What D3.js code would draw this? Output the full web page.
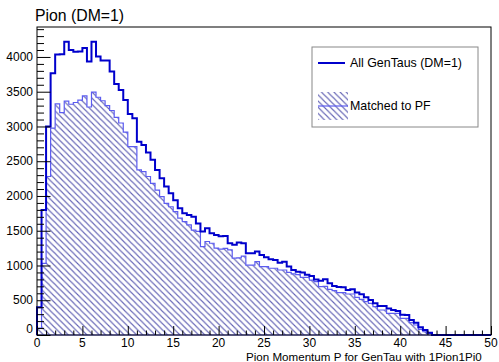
<!DOCTYPE html>
<html>
<head>
<meta charset="utf-8">
<script src="https://cdn.jsdelivr.net/npm/d3@7"></script>
<style>
  html, body { margin: 0; padding: 0; background: #fff; }
  svg { display: block; font-family: "Liberation Sans", Arial, Helvetica, sans-serif; }
</style>
</head>
<body>
<svg id="chart" width="499" height="362"></svg>
<script>
// ---------------- data ----------------
const chartTitle = "Pion (DM=1)";
const xTitle = "Pion Momentum P for GenTau with 1Pion1Pi0";
const legendLabels = ["All GenTaus (DM=1)", "Matched to PF"];
const binWidth = 0.5;            // 100 bins from 0 to 50
const xTicks = [0, 5, 10, 15, 20, 25, 30, 35, 40, 45, 50];
const yTicks = [0, 500, 1000, 1500, 2000, 2500, 3000, 3500, 4000];

const allGenTaus = [
  400, 1800, 3000, 3765, 4035, 4040, 4220, 4100, 4075, 4080,
  4130, 3935, 4220, 4005, 3950, 3950, 3790, 3610, 3525, 3380,
  3180, 3120, 2780, 2735, 2625, 2520, 2375, 2255, 2135, 2040,
  1940, 1825, 1750, 1725, 1700, 1605, 1490, 1535, 1465, 1440,
  1420, 1424, 1320, 1300, 1330, 1320, 1175, 1175, 1200, 1150,
  1120, 1090, 1080, 1040, 1055, 985, 935, 910, 900, 865,
  850, 800, 782, 801, 745, 705, 690, 686, 647, 657,
  610, 585, 542, 504, 456, 417, 417, 380, 360, 345,
  290, 288, 216, 177, 110, 72, 33, 0, 0, 0,
  0, 0, 0, 0, 0, 0, 0, 0, 0, 0
];
const matchedPF = [
  100, 1030, 2280, 2975, 3325, 3200, 3365, 3320, 3345, 3380,
  3440, 3280, 3495, 3420, 3370, 3300, 3230, 3130, 3050, 2920,
  2710, 2710, 2375, 2350, 2280, 2180, 2085, 1990, 1895, 1845,
  1775, 1680, 1630, 1585, 1510, 1490, 1270, 1345, 1320, 1250,
  1235, 1245, 1225, 1105, 1110, 1135, 1005, 1005, 1055, 985,
  985, 960, 960, 935, 935, 900, 880, 870, 830, 830,
  790, 767, 695, 700, 657, 638, 609, 609, 590, 590,
  542, 513, 479, 456, 408, 360, 360, 312, 312, 310,
  240, 240, 177, 144, 82, 47, 24, 0, 0, 0,
  0, 0, 0, 0, 0, 0, 0, 0, 0, 0
];

// ---------------- layout ----------------
const svg = d3.select("#chart");
const mLeft = 37, mRight = 491, mTop = 27, mBottom = 335;
const x = d3.scaleLinear().domain([0, 50]).range([mLeft, mRight]);
const y = d3.scaleLinear().domain([0, 4431]).range([mBottom, mTop]);

const lineColor = "#0000cc";
const matchedLine = "#5c5cf0";
const hatchColor = "#6565b5";

const defs = svg.append("defs");
const pat = defs.append("pattern")
  .attr("id", "hatch").attr("patternUnits", "userSpaceOnUse")
  .attr("width", 6.2).attr("height", 6.2);
pat.append("path")
  .attr("d", "M-1,-1 L7.2,7.2 M-1,5.2 L1,7.2 M5.2,-1 L7.2,1")
  .attr("stroke", hatchColor).attr("stroke-width", 1.1).attr("fill", "none");

function histPath(vals) {
  const p = d3.path();
  p.moveTo(x(0), y(0));
  vals.forEach((v, i) => {
    p.lineTo(x(i * binWidth), y(v));
    p.lineTo(x((i + 1) * binWidth), y(v));
  });
  p.lineTo(x(vals.length * binWidth), y(0));
  return p.toString();
}

// matched (hatched)
svg.append("path")
  .attr("d", histPath(matchedPF) + "Z")
  .attr("fill", "url(#hatch)")
  .attr("stroke", matchedLine).attr("stroke-width", 1.2);

// all gen taus
svg.append("path")
  .attr("d", histPath(allGenTaus))
  .attr("fill", "none")
  .attr("stroke", lineColor).attr("stroke-width", 2);

// frame
svg.append("rect")
  .attr("x", mLeft).attr("y", mTop)
  .attr("width", mRight - mLeft).attr("height", mBottom - mTop)
  .attr("fill", "none").attr("stroke", "#000").attr("stroke-width", 1);

// y axis ticks (inward)
const yAxis = d3.axisRight(y)
  .tickValues(d3.range(0, 4401, 100))
  .tickSize(0).tickFormat("");
const gy = svg.append("g").attr("transform", `translate(${mLeft},0)`).call(yAxis);
gy.select(".domain").remove();
gy.selectAll(".tick line")
  .attr("x2", d => (d % 500 === 0 ? 13.5 : 7))
  .attr("stroke", "#000").attr("stroke-width", 1);
svg.append("g").selectAll("text").data(yTicks).join("text")
  .attr("x", 33).attr("y", d => y(d) + (d === 0 ? -6 : 0))
  .attr("dy", "0.35em")
  .attr("text-anchor", "end")
  .attr("font-size", 12).attr("fill", "#000")
  .text(d => d);

// x axis ticks (inward)
const xAxis = d3.axisTop(x)
  .tickValues(d3.range(0, 51, 1))
  .tickSize(0).tickFormat("");
const gx = svg.append("g").attr("transform", `translate(0,${mBottom})`).call(xAxis);
gx.select(".domain").remove();
gx.selectAll(".tick line")
  .attr("y2", d => (d % 5 === 0 ? -9 : -4.5))
  .attr("stroke", "#000").attr("stroke-width", 1);
svg.append("g").selectAll("text").data(xTicks).join("text")
  .attr("x", d => x(d)).attr("y", 346.5)
  .attr("text-anchor", "middle")
  .attr("font-size", 12).attr("fill", "#000")
  .text(d => d);

// titles
svg.append("text").attr("x", 35).attr("y", 21)
  .attr("font-size", 15.8).attr("fill", "#000").text(chartTitle);
svg.append("text").attr("x", 246).attr("y", 361)
  .attr("font-size", 11.6).attr("fill", "#000").text(xTitle);

// legend
const lg = svg.append("g");
lg.append("rect").attr("x", 312).attr("y", 47).attr("width", 166).attr("height", 80)
  .attr("fill", "#fff").attr("stroke", "#888").attr("stroke-width", 1);
lg.append("line").attr("x1", 318).attr("x2", 345).attr("y1", 63).attr("y2", 63)
  .attr("stroke", lineColor).attr("stroke-width", 2);
lg.append("text").attr("x", 350).attr("y", 63).attr("dy", "0.35em")
  .attr("font-size", 12.4).attr("fill", "#000").text(legendLabels[0]);
lg.append("rect").attr("x", 318).attr("y", 92).attr("width", 30).attr("height", 28)
  .attr("fill", "url(#hatch)");
lg.append("line").attr("x1", 318).attr("x2", 348).attr("y1", 106).attr("y2", 106)
  .attr("stroke", matchedLine).attr("stroke-width", 1.2);
lg.append("text").attr("x", 350).attr("y", 106).attr("dy", "0.35em")
  .attr("font-size", 12.4).attr("fill", "#000").text(legendLabels[1]);
</script>
</body>
</html>
